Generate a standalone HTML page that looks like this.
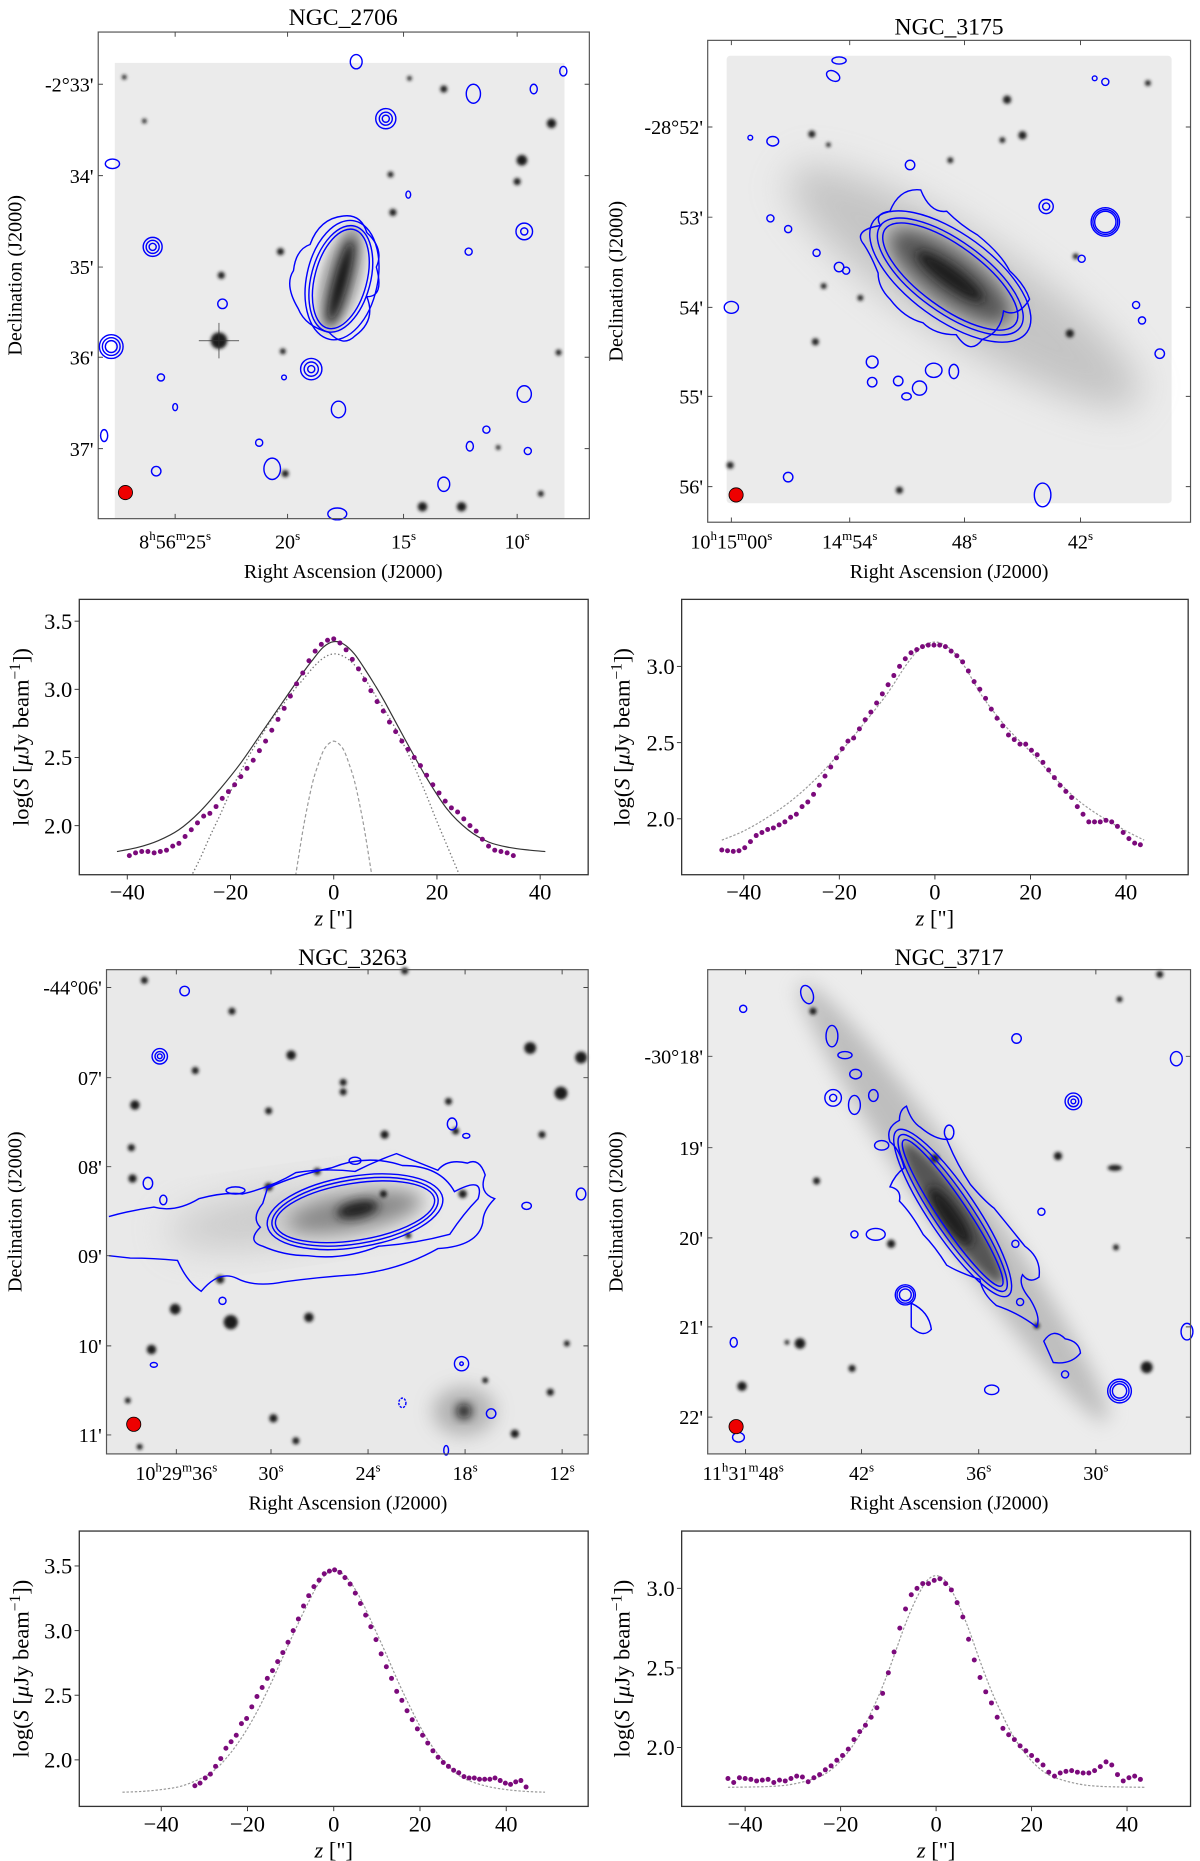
<!DOCTYPE html>
<html><head><meta charset="utf-8"><title>Radio continuum profiles</title>
<style>
html,body{margin:0;padding:0;background:#fff;}
svg{display:block;font-family:"Liberation Serif","DejaVu Serif",serif;}
svg text{font-family:"Liberation Serif","DejaVu Serif",serif;}
</style></head>
<body>
<svg id="fig" width="1200" height="1861" viewBox="0 0 1014 1568" preserveAspectRatio="none" xmlns="http://www.w3.org/2000/svg" font-family="Liberation Serif, DejaVu Serif, serif">
<defs>
<filter id="b1" x="-50%" y="-50%" width="200%" height="200%"><feGaussianBlur stdDeviation="1.3"/></filter>
<filter id="b4" x="-50%" y="-50%" width="200%" height="200%"><feGaussianBlur stdDeviation="4"/></filter>
<filter id="b8" x="-50%" y="-50%" width="200%" height="200%"><feGaussianBlur stdDeviation="8"/></filter>
<filter id="b16" x="-50%" y="-50%" width="200%" height="200%"><feGaussianBlur stdDeviation="16"/></filter>
</defs>

<!-- ================= PANEL A: NGC_2706 ================= -->
<g>
<text x="290" y="21" font-size="20" text-anchor="middle">NGC_2706</text>
<rect x="97" y="53" width="380" height="384" fill="#ebebeb"/>
<g fill="#1e1e1e" filter="url(#b1)">
<circle cx="466" cy="104" r="4"/><circle cx="441" cy="135" r="4.5"/><circle cx="437" cy="153" r="3"/><circle cx="332" cy="179" r="3"/><circle cx="237" cy="212" r="3"/><circle cx="187" cy="232" r="3"/><circle cx="375" cy="75" r="3"/><circle cx="357" cy="427" r="4"/><circle cx="390" cy="427" r="4"/><circle cx="472" cy="297" r="2.5"/><circle cx="241" cy="399" r="3"/><circle cx="239" cy="296" r="2.5"/><circle cx="457" cy="416" r="2.5"/><circle cx="421" cy="377" r="2"/><circle cx="105" cy="65" r="2"/><circle cx="346" cy="66" r="2"/><circle cx="330" cy="147" r="2.5"/><circle cx="122" cy="102" r="2"/>
<circle cx="185" cy="287" r="7"/>
</g>
<path d="M185 272 L185 302 M168 287 L202 287" stroke="#333" stroke-width="1" opacity="0.6"/>
<ellipse cx="288" cy="235" rx="16" ry="46" fill="#777" opacity="0.7" transform="rotate(15 288 235)" filter="url(#b4)"/>
<ellipse cx="288" cy="237" rx="6" ry="36" fill="#111" transform="rotate(15 288 237)" filter="url(#b4)"/>
<g fill="none" stroke="#0000ff" stroke-width="1.2">
<ellipse cx="288" cy="235" rx="22" ry="43" transform="rotate(15 288 235)"/>
<ellipse cx="288" cy="235" rx="25" ry="46" transform="rotate(15 288 235)"/>
<ellipse cx="289" cy="236" rx="30" ry="51" transform="rotate(12 289 236)"/>
<path d="M262 206 Q270 184 290 182 Q305 180 310 196 Q325 210 318 225 Q325 250 310 250 Q318 270 300 283 Q290 293 278 280 Q258 275 252 260 Q240 240 248 228 Q250 210 262 206Z"/>
<circle cx="326" cy="100" r="3"/><circle cx="326" cy="100" r="5.5"/><circle cx="326" cy="100" r="8.5"/>
<circle cx="129" cy="208" r="3"/><circle cx="129" cy="208" r="5.5"/><circle cx="129" cy="208" r="8"/>
<circle cx="94" cy="292" r="5"/><circle cx="94" cy="292" r="7.5"/><circle cx="94" cy="292" r="10"/>
<circle cx="263" cy="311" r="3"/><circle cx="263" cy="311" r="6"/><circle cx="263" cy="311" r="9"/>
<circle cx="443" cy="195" r="3"/><circle cx="443" cy="195" r="7"/>
<ellipse cx="286" cy="345" rx="6" ry="7"/><ellipse cx="443" cy="332" rx="6" ry="7"/>
<ellipse cx="230" cy="395" rx="7" ry="9"/><ellipse cx="301" cy="52" rx="5" ry="6"/>
<ellipse cx="400" cy="79" rx="6" ry="8"/><ellipse cx="375" cy="408" rx="5" ry="6"/>
<ellipse cx="95" cy="138" rx="6" ry="4"/><ellipse cx="451" cy="75" rx="3" ry="4"/><ellipse cx="476" cy="60" rx="3" ry="4"/>
<ellipse cx="188" cy="256" rx="4" ry="4"/><ellipse cx="136" cy="318" rx="3" ry="3"/><ellipse cx="148" cy="343" rx="2" ry="3"/>
<ellipse cx="411" cy="362" rx="3" ry="3"/><ellipse cx="397" cy="376" rx="3" ry="4"/><ellipse cx="446" cy="380" rx="3" ry="3"/>
<ellipse cx="219" cy="373" rx="3" ry="3"/><ellipse cx="132" cy="397" rx="4" ry="4"/><ellipse cx="285" cy="433" rx="8" ry="5"/><ellipse cx="345" cy="164" rx="2" ry="3"/><ellipse cx="396" cy="212" rx="3" ry="3"/><ellipse cx="240" cy="318" rx="2" ry="2"/><ellipse cx="88" cy="367" rx="3" ry="5"/>
</g>
<circle cx="106" cy="415" r="6" fill="#ee0000" stroke="#000" stroke-width="0.7"/>
<rect x="83" y="27" width="415" height="410" fill="none" stroke="#555" stroke-width="1"/>
<g stroke="#444" stroke-width="0.8">
<path d="M83 71h4M83 148h4M83 225h4M83 301h4M83 378h4M498 71h-4M498 148h-4M498 225h-4M498 301h-4M498 378h-4M148 437v-4M243 437v-4M341 437v-4M437 437v-4M148 27v4M243 27v4M341 27v4M437 27v4"/>
</g>
<g font-size="17" text-anchor="end">
<text x="79" y="77">-2°33'</text><text x="79" y="154">34'</text><text x="79" y="231">35'</text><text x="79" y="307">36'</text><text x="79" y="384">37'</text>
</g>
<g font-size="17" text-anchor="middle">
<text x="148" y="462">8<tspan font-size="11" dy="-7">h</tspan><tspan dy="7">56</tspan><tspan font-size="11" dy="-7">m</tspan><tspan dy="7">25</tspan><tspan font-size="11" dy="-7">s</tspan></text>
<text x="243" y="462">20<tspan font-size="11" dy="-7">s</tspan></text>
<text x="341" y="462">15<tspan font-size="11" dy="-7">s</tspan></text>
<text x="437" y="462">10<tspan font-size="11" dy="-7">s</tspan></text>
</g>
<text x="290" y="487" font-size="17" text-anchor="middle">Right Ascension (J2000)</text>
<text x="0" y="0" font-size="17" text-anchor="middle" transform="translate(18 232) rotate(-90)">Declination (J2000)</text>
</g>

<!-- ================= PANEL B: NGC_3175 ================= -->
<g>
<text x="802" y="29" font-size="20" text-anchor="middle">NGC_3175</text>
<rect x="614" y="47" width="376" height="377" rx="3" fill="#ebebeb"/>
<ellipse cx="815" cy="242" rx="175" ry="42" fill="#aaa" opacity="0.6" transform="rotate(33 815 242)" filter="url(#b16)"/>
<ellipse cx="803" cy="233" rx="62" ry="22" fill="#555" transform="rotate(36 803 233)" filter="url(#b8)"/>
<ellipse cx="803" cy="233" rx="34" ry="8" fill="#1a1a1a" transform="rotate(36 803 233)" filter="url(#b4)"/>
<g fill="#222" filter="url(#b1)">
<circle cx="851" cy="84" r="3.5"/><circle cx="864" cy="114" r="3.5"/><circle cx="686" cy="113" r="3"/><circle cx="847" cy="118" r="2.5"/><circle cx="803" cy="135" r="2.5"/><circle cx="689" cy="288" r="3"/><circle cx="904" cy="281" r="3.5"/><circle cx="617" cy="392" r="3"/><circle cx="760" cy="413" r="3"/><circle cx="727" cy="251" r="2.5"/><circle cx="970" cy="70" r="2.5"/><circle cx="909" cy="216" r="2.5"/><circle cx="696" cy="241" r="2.5"/><circle cx="700" cy="122" r="2"/>
</g>
<g fill="none" stroke="#0000ff" stroke-width="1.2">
<ellipse cx="803" cy="233" rx="68" ry="26" transform="rotate(36 803 233)"/>
<ellipse cx="803" cy="233" rx="73" ry="30" transform="rotate(36 803 233)"/>
<ellipse cx="803" cy="233" rx="80" ry="36" transform="rotate(36 803 233)"/>
<path d="M744 190 Q738 180 752 178 Q760 158 778 160 Q786 180 800 178 Q812 190 826 198 Q846 214 853 228 Q866 240 870 252 Q860 268 848 262 Q846 280 830 286 Q820 300 808 282 Q790 282 780 272 Q764 268 752 252 Q742 242 742 230 Q736 215 730 206 Q720 194 744 190Z"/>
<circle cx="934" cy="187" r="9"/><circle cx="934" cy="187" r="10.5"/><circle cx="934" cy="187" r="12"/>
<circle cx="884" cy="174" r="3"/><circle cx="884" cy="174" r="6"/>
<ellipse cx="704" cy="64" rx="6" ry="4" transform="rotate(30 704 64)"/><ellipse cx="653" cy="119" rx="5" ry="4"/>
<ellipse cx="618" cy="259" rx="6" ry="5"/><ellipse cx="737" cy="305" rx="5" ry="5"/><ellipse cx="789" cy="312" rx="7" ry="6"/><ellipse cx="777" cy="327" rx="6" ry="6"/><ellipse cx="759" cy="321" rx="4" ry="4"/><ellipse cx="806" cy="313" rx="4" ry="6"/><ellipse cx="766" cy="334" rx="4" ry="3"/><ellipse cx="737" cy="322" rx="4" ry="4"/>
<ellipse cx="881" cy="417" rx="7" ry="10"/><ellipse cx="980" cy="298" rx="4" ry="4"/><ellipse cx="666" cy="402" rx="4" ry="4"/>
<ellipse cx="709" cy="51" rx="6" ry="3"/><ellipse cx="666" cy="193" rx="3" ry="3"/><ellipse cx="651" cy="184" rx="3" ry="3"/><ellipse cx="914" cy="218" rx="3" ry="3"/><ellipse cx="965" cy="270" rx="3" ry="3"/><ellipse cx="960" cy="257" rx="3" ry="3"/><ellipse cx="690" cy="213" rx="3" ry="3"/><ellipse cx="769" cy="139" rx="4" ry="4"/><ellipse cx="934" cy="69" rx="3" ry="3"/><ellipse cx="925" cy="66" rx="2" ry="2"/><ellipse cx="715" cy="228" rx="3" ry="3"/><ellipse cx="709" cy="225" rx="4" ry="4"/><ellipse cx="634" cy="116" rx="2" ry="2"/>
</g>
<circle cx="622" cy="417" r="6" fill="#ee0000" stroke="#000" stroke-width="0.7"/>
<rect x="598" y="34" width="408" height="406" fill="none" stroke="#555" stroke-width="1"/>
<g stroke="#444" stroke-width="0.8">
<path d="M598 107h4M598 183h4M598 259h4M598 334h4M598 410h4M1006 107h-4M1006 183h-4M1006 259h-4M1006 334h-4M1006 410h-4M618 440v-4M718 440v-4M815 440v-4M913 440v-4M618 34v4M718 34v4M815 34v4M913 34v4"/>
</g>
<g font-size="17" text-anchor="end">
<text x="594" y="113">-28°52'</text><text x="594" y="189">53'</text><text x="594" y="265">54'</text><text x="594" y="340">55'</text><text x="594" y="416">56'</text>
</g>
<g font-size="17" text-anchor="middle">
<text x="618" y="462">10<tspan font-size="11" dy="-7">h</tspan><tspan dy="7">15</tspan><tspan font-size="11" dy="-7">m</tspan><tspan dy="7">00</tspan><tspan font-size="11" dy="-7">s</tspan></text>
<text x="718" y="462">14<tspan font-size="11" dy="-7">m</tspan><tspan dy="7">54</tspan><tspan font-size="11" dy="-7">s</tspan></text>
<text x="815" y="462">48<tspan font-size="11" dy="-7">s</tspan></text>
<text x="913" y="462">42<tspan font-size="11" dy="-7">s</tspan></text>
</g>
<text x="802" y="487" font-size="17" text-anchor="middle">Right Ascension (J2000)</text>
<text x="0" y="0" font-size="17" text-anchor="middle" transform="translate(526 237) rotate(-90)">Declination (J2000)</text>
</g>

<!-- ================= PANEL C: NGC_3263 ================= -->
<g>
<text x="298" y="813" font-size="20" text-anchor="middle">NGC_3263</text>
<rect x="90" y="817" width="407" height="408" fill="#e9e9e9"/>
<ellipse cx="240" cy="1025" rx="100" ry="22" fill="#aaa" opacity="0.5" transform="rotate(-8 240 1025)" filter="url(#b16)"/>
<ellipse cx="300" cy="1021" rx="58" ry="15" fill="#888" transform="rotate(-10 300 1021)" filter="url(#b8)"/>
<ellipse cx="302" cy="1019" rx="18" ry="7" fill="#1a1a1a" transform="rotate(-12 302 1019)" filter="url(#b4)"/>
<ellipse cx="392" cy="1189" rx="26" ry="20" fill="#999" opacity="0.7" filter="url(#b8)"/>
<circle cx="392" cy="1189" r="6" fill="#111" filter="url(#b4)"/>
<g fill="#1b1b1b" filter="url(#b1)">
<circle cx="448" cy="883" r="5"/><circle cx="491" cy="891" r="5"/><circle cx="474" cy="921" r="5.5"/><circle cx="246" cy="889" r="4"/><circle cx="196" cy="852" r="3"/><circle cx="114" cy="931" r="4"/><circle cx="111" cy="967" r="3"/><circle cx="112" cy="993" r="3.5"/><circle cx="227" cy="936" r="3"/><circle cx="290" cy="920" r="3"/><circle cx="325" cy="956" r="3.5"/><circle cx="165" cy="902" r="3"/><circle cx="227" cy="1000" r="3.5"/><circle cx="324" cy="1006" r="3"/><circle cx="391" cy="1006" r="3.5"/><circle cx="148" cy="1103" r="4.5"/><circle cx="195" cy="1114" r="6"/><circle cx="128" cy="1137" r="4"/><circle cx="261" cy="1110" r="4"/><circle cx="479" cy="1132" r="2.5"/><circle cx="465" cy="1173" r="3"/><circle cx="231" cy="1195" r="3.5"/><circle cx="435" cy="1208" r="3.5"/><circle cx="250" cy="1214" r="3"/><circle cx="122" cy="826" r="3"/><circle cx="342" cy="818" r="3"/><circle cx="379" cy="928" r="3"/><circle cx="458" cy="956" r="3"/><circle cx="290" cy="912" r="3"/><circle cx="268" cy="987" r="3"/><circle cx="385" cy="953" r="3"/><circle cx="186" cy="1078" r="3.5"/><circle cx="108" cy="1180" r="2.5"/><circle cx="118" cy="1219" r="2.5"/><circle cx="410" cy="1163" r="2.5"/><circle cx="345" cy="1041" r="2.5"/>
</g>
<g fill="none" stroke="#0000ff" stroke-width="1.2">
<ellipse cx="300" cy="1021" rx="68" ry="24" transform="rotate(-9 300 1021)"/>
<ellipse cx="300" cy="1021" rx="71" ry="27" transform="rotate(-9 300 1021)"/>
<ellipse cx="300" cy="1021" rx="75" ry="30" transform="rotate(-9 300 1021)"/>
<path d="M226 1001 Q250 990 280 984 Q310 972 340 982 Q372 982 384 1004 Q410 990 404 1010 Q392 1022 380 1040 Q350 1048 320 1050 Q290 1062 260 1058 Q240 1058 222 1050 Q208 1046 220 1034 Q212 1026 222 1014 Z"/>
<path d="M92 1025 Q110 1020 130 1017 Q148 1022 168 1010 Q190 1004 205 1006 Q230 1000 250 988 Q275 984 300 987 Q318 978 335 972 Q355 980 370 986 Q378 976 395 980 Q405 975 410 990 Q404 1005 418 1010 Q408 1020 408 1030 Q404 1050 370 1052 Q338 1070 300 1074 Q270 1076 240 1080 Q215 1085 200 1077 Q185 1070 170 1088 Q158 1080 150 1062 Q130 1060 110 1060 L92 1058"/>
<circle cx="135" cy="890" r="2"/><circle cx="135" cy="890" r="4"/><circle cx="135" cy="890" r="6.5"/>
<ellipse cx="156" cy="835" rx="4" ry="4"/><ellipse cx="382" cy="947" rx="4" ry="5"/><ellipse cx="491" cy="1006" rx="4" ry="5"/><ellipse cx="445" cy="1016" rx="4" ry="3"/>
<circle cx="390" cy="1149" r="1.5"/><circle cx="390" cy="1149" r="6"/>
<ellipse cx="415" cy="1191" rx="4" ry="4"/><ellipse cx="340" cy="1182" rx="3" ry="4" stroke-dasharray="2,1"/><ellipse cx="125" cy="997" rx="4" ry="5"/><ellipse cx="138" cy="1011" rx="3" ry="4"/><ellipse cx="199" cy="1003" rx="8" ry="3"/><ellipse cx="188" cy="1096" rx="3" ry="3"/><ellipse cx="300" cy="978" rx="5" ry="3"/><ellipse cx="394" cy="957" rx="3" ry="2"/><ellipse cx="130" cy="1150" rx="3" ry="2"/><ellipse cx="377" cy="1222" rx="2" ry="4"/>
</g>
<circle cx="113" cy="1200" r="6" fill="#ee0000" stroke="#000" stroke-width="0.7"/>
<rect x="90" y="817" width="407" height="408" fill="none" stroke="#555" stroke-width="1"/>
<g stroke="#444" stroke-width="0.8">
<path d="M90 832h4M90 908h4M90 983h4M90 1058h4M90 1134h4M90 1209h4M497 832h-4M497 908h-4M497 983h-4M497 1058h-4M497 1134h-4M497 1209h-4M149 1225v-4M229 1225v-4M311 1225v-4M393 1225v-4M475 1225v-4M149 817v4M229 817v4M311 817v4M393 817v4M475 817v4"/>
</g>
<g font-size="17" text-anchor="end">
<text x="86" y="838">-44°06'</text><text x="86" y="914">07'</text><text x="86" y="989">08'</text><text x="86" y="1064">09'</text><text x="86" y="1140">10'</text><text x="86" y="1215">11'</text>
</g>
<g font-size="17" text-anchor="middle">
<text x="149" y="1247">10<tspan font-size="11" dy="-7">h</tspan><tspan dy="7">29</tspan><tspan font-size="11" dy="-7">m</tspan><tspan dy="7">36</tspan><tspan font-size="11" dy="-7">s</tspan></text>
<text x="229" y="1247">30<tspan font-size="11" dy="-7">s</tspan></text>
<text x="311" y="1247">24<tspan font-size="11" dy="-7">s</tspan></text>
<text x="393" y="1247">18<tspan font-size="11" dy="-7">s</tspan></text>
<text x="475" y="1247">12<tspan font-size="11" dy="-7">s</tspan></text>
</g>
<text x="294" y="1272" font-size="17" text-anchor="middle">Right Ascension (J2000)</text>
<text x="0" y="0" font-size="17" text-anchor="middle" transform="translate(18 1021) rotate(-90)">Declination (J2000)</text>
</g>

<!-- ================= PANEL D: NGC_3717 ================= -->
<g>
<text x="802" y="813" font-size="20" text-anchor="middle">NGC_3717</text>
<rect x="598" y="817" width="408" height="408" fill="#ececec"/>
<ellipse cx="806" cy="1013" rx="225" ry="24" fill="#999" opacity="0.55" transform="rotate(55 806 1013)" filter="url(#b8)"/>
<ellipse cx="805" cy="1022" rx="72" ry="14" fill="#555" transform="rotate(55 805 1022)" filter="url(#b4)"/>
<ellipse cx="803" cy="1025" rx="30" ry="8" fill="#1a1a1a" transform="rotate(55 803 1025)" filter="url(#b4)"/>
<g fill="#1b1b1b" filter="url(#b1)">
<circle cx="687" cy="852" r="3"/><circle cx="980" cy="821" r="3"/><circle cx="894" cy="974" r="3.5"/><ellipse cx="942" cy="984" rx="6" ry="2.5"/><circle cx="690" cy="995" r="3"/><circle cx="753" cy="1048" r="3.5"/><circle cx="676" cy="1132" r="4.5"/><circle cx="969" cy="1152" r="5"/><circle cx="627" cy="1168" r="4"/><circle cx="720" cy="1153" r="3"/><circle cx="943" cy="1051" r="2.5"/><circle cx="876" cy="1117" r="2.5"/><circle cx="790" cy="976" r="3.5"/><circle cx="946" cy="842" r="2.5"/><circle cx="665" cy="1131" r="2"/>
</g>
<g fill="none" stroke="#0000ff" stroke-width="1.2">
<ellipse cx="805" cy="1022" rx="74" ry="12" transform="rotate(56 805 1022)"/>
<ellipse cx="805" cy="1022" rx="79" ry="16" transform="rotate(56 805 1022)"/>
<ellipse cx="805" cy="1022" rx="84" ry="20" transform="rotate(56 805 1022)"/>
<path d="M766 932 Q770 945 778 950 Q790 960 800 960 Q808 980 820 998 Q832 1012 840 1018 Q858 1040 866 1050 Q880 1060 878 1076 Q870 1082 864 1074 Q860 1082 870 1094 Q880 1110 876 1118 Q860 1106 842 1100 Q830 1090 828 1078 Q810 1072 800 1066 Q790 1050 780 1040 Q770 1022 760 1012 Q762 1002 752 1000 Q756 990 764 984 Q760 968 752 962 Q748 950 760 944 Q760 935 766 932Z"/>
<circle cx="704" cy="925" r="3"/><circle cx="704" cy="925" r="7"/>
<circle cx="907" cy="928" r="2"/><circle cx="907" cy="928" r="4.5"/><circle cx="907" cy="928" r="7"/>
<circle cx="765" cy="1091" r="5"/><circle cx="765" cy="1091" r="7"/><circle cx="765" cy="1091" r="8.5"/>
<path d="M770 1098 Q785 1105 787 1120 Q780 1128 770 1118 Z"/>
<circle cx="946" cy="1172" r="6"/><circle cx="946" cy="1172" r="8"/><circle cx="946" cy="1172" r="10"/>
<ellipse cx="994" cy="892" rx="5" ry="6"/><ellipse cx="859" cy="875" rx="4" ry="4"/><ellipse cx="1003" cy="1122" rx="5" ry="7"/><ellipse cx="620" cy="1131" rx="3" ry="4"/><ellipse cx="838" cy="1171" rx="6" ry="4"/>
<ellipse cx="682" cy="838" rx="5" ry="8" transform="rotate(-20 682 838)"/><ellipse cx="703" cy="873" rx="5" ry="9"/><ellipse cx="714" cy="889" rx="6" ry="3"/><ellipse cx="723" cy="905" rx="5" ry="4"/><ellipse cx="738" cy="923" rx="4" ry="5"/><ellipse cx="722" cy="931" rx="5" ry="8"/><ellipse cx="745" cy="965" rx="6" ry="4"/>
<path d="M882 1130 Q890 1118 900 1128 Q912 1130 913 1140 Q905 1150 890 1148 Z"/>
<ellipse cx="740" cy="1040" rx="8" ry="5"/><ellipse cx="802" cy="954" rx="4" ry="6"/><ellipse cx="858" cy="1048" rx="3" ry="3"/><ellipse cx="880" cy="1021" rx="3" ry="3"/><ellipse cx="624" cy="1211" rx="5" ry="4"/><ellipse cx="722" cy="1040" rx="3" ry="3"/><ellipse cx="862" cy="1097" rx="3" ry="3"/><ellipse cx="900" cy="1158" rx="3" ry="3"/><ellipse cx="628" cy="850" rx="3" ry="3"/>
</g>
<circle cx="622" cy="1202" r="6" fill="#ee0000" stroke="#000" stroke-width="0.7"/>
<rect x="598" y="817" width="408" height="408" fill="none" stroke="#555" stroke-width="1"/>
<g stroke="#444" stroke-width="0.8">
<path d="M598 890h4M598 967h4M598 1043h4M598 1118h4M598 1194h4M1006 890h-4M1006 967h-4M1006 1043h-4M1006 1118h-4M1006 1194h-4M630 1225v-4M728 1225v-4M827 1225v-4M926 1225v-4M630 817v4M728 817v4M827 817v4M926 817v4"/>
</g>
<g font-size="17" text-anchor="end">
<text x="594" y="896">-30°18'</text><text x="594" y="973">19'</text><text x="594" y="1049">20'</text><text x="594" y="1124">21'</text><text x="594" y="1200">22'</text>
</g>
<g font-size="17" text-anchor="middle">
<text x="628" y="1247">11<tspan font-size="11" dy="-7">h</tspan><tspan dy="7">31</tspan><tspan font-size="11" dy="-7">m</tspan><tspan dy="7">48</tspan><tspan font-size="11" dy="-7">s</tspan></text>
<text x="728" y="1247">42<tspan font-size="11" dy="-7">s</tspan></text>
<text x="827" y="1247">36<tspan font-size="11" dy="-7">s</tspan></text>
<text x="926" y="1247">30<tspan font-size="11" dy="-7">s</tspan></text>
</g>
<text x="802" y="1272" font-size="17" text-anchor="middle">Right Ascension (J2000)</text>
<text x="0" y="0" font-size="17" text-anchor="middle" transform="translate(526 1021) rotate(-90)">Declination (J2000)</text>
</g>

<g id="profiles" font-family="Liberation Serif, DejaVu Serif, serif"></g>
</svg>

<script>
// ---------- data: NGC 2706 ----------
const z2706 = [-39.6,-38.4,-37.2,-36.0,-34.8,-33.6,-32.4,-31.2,-30.0,-28.8,-27.6,-26.4,-25.2,-24.0,-22.8,-21.6,-20.4,-19.2,-18.0,-16.8,-15.6,-14.4,-13.2,-12.0,-10.8,-9.6,-8.4,-7.2,-6.0,-4.8,-3.6,-2.4,-1.2,0.0,1.2,2.4,3.6,4.8,6.0,7.2,8.4,9.6,10.8,12.0,13.2,14.4,15.6,16.8,18.0,19.2,20.4,21.6,22.8,24.0,25.2,26.4,27.6,28.8,30.0,31.2,32.4,33.6,34.8];
const s2706 = [1.78,1.80,1.81,1.81,1.80,1.81,1.82,1.85,1.87,1.92,1.97,2.02,2.07,2.09,2.14,2.20,2.25,2.30,2.36,2.42,2.48,2.55,2.62,2.70,2.78,2.86,2.95,3.04,3.12,3.21,3.28,3.33,3.36,3.37,3.34,3.29,3.22,3.15,3.07,2.99,2.91,2.84,2.76,2.69,2.62,2.56,2.50,2.44,2.37,2.30,2.24,2.18,2.13,2.10,2.05,2.00,1.96,1.90,1.85,1.82,1.81,1.80,1.78];
const fitTotalZ2706 = [-42,-38,-34,-30,-26,-22,-18,-14,-10,-6,-4,-2,0,2,4,6,8,10,14,18,22,26,30,34,38,41];
const fitTotalS2706 = [1.81,1.84,1.89,1.97,2.10,2.27,2.46,2.68,2.90,3.12,3.22,3.31,3.35,3.33,3.26,3.15,3.03,2.90,2.62,2.35,2.12,1.97,1.88,1.84,1.82,1.81];
const fitThickZ2706 = [-28,-26,-24,-22,-20,-18,-16,-14,-12,-10,-8,-6,-4,-2,0,2,4,6,8,10,12,14,16,18,20,22,24,25];
const fitThickS2706 = [1.60,1.75,1.92,2.08,2.25,2.40,2.54,2.66,2.78,2.88,2.98,3.07,3.16,3.23,3.26,3.24,3.18,3.08,2.96,2.84,2.71,2.56,2.40,2.22,2.03,1.85,1.67,1.58];
const fitThinZ2706 = [-7.4,-6,-5,-4,-3,-2,-1,0,1,2,3,4,5,6,7.4];
const fitThinS2706 = [1.63,1.96,2.16,2.33,2.45,2.55,2.60,2.62,2.60,2.55,2.45,2.33,2.16,1.96,1.63];
// ---------- data: NGC 3175 ----------
const z3175 = [-44.6,-43.4,-42.2,-41.0,-39.8,-38.6,-37.4,-36.2,-35.0,-33.8,-32.6,-31.4,-30.2,-29.0,-27.8,-26.6,-25.4,-24.2,-23.0,-21.8,-20.6,-19.4,-18.2,-17.0,-15.8,-14.6,-13.4,-12.2,-11.0,-9.8,-8.6,-7.4,-6.2,-5.0,-3.8,-2.6,-1.4,-0.2,1.0,2.2,3.4,4.6,5.8,7.0,8.2,9.4,10.6,11.8,13.0,14.2,15.4,16.6,17.8,19.0,20.2,21.4,22.6,23.8,25.0,26.2,27.4,28.6,29.8,31.0,32.2,33.4,34.6,35.8,37.0,38.2,39.4,40.6,41.8,43.0];
const s3175 = [1.795,1.79,1.786,1.79,1.81,1.85,1.89,1.91,1.93,1.94,1.96,1.98,2.01,2.03,2.08,2.11,2.16,2.22,2.28,2.34,2.40,2.46,2.51,2.53,2.59,2.65,2.70,2.76,2.82,2.88,2.94,3.00,3.05,3.09,3.11,3.13,3.14,3.14,3.14,3.13,3.10,3.07,3.03,2.97,2.90,2.85,2.79,2.72,2.66,2.61,2.55,2.52,2.49,2.49,2.45,2.42,2.37,2.32,2.27,2.22,2.18,2.14,2.08,2.03,1.98,1.98,1.98,1.99,1.98,1.95,1.91,1.87,1.84,1.83];
const fitZ3175 = [-44.6,-40,-35,-30,-25,-20,-15,-10,-6,-3,0,3,6,10,15,20,25,30,35,40,43.8];
const fitS3175 = [1.86,1.92,2.01,2.12,2.26,2.43,2.62,2.82,3.01,3.12,3.16,3.12,3.01,2.80,2.60,2.44,2.27,2.12,2.01,1.92,1.86];
// ---------- data: NGC 3263 ----------
const z3263 = [-32.2,-31.0,-29.8,-28.6,-27.4,-26.2,-25.0,-23.8,-22.6,-21.4,-20.2,-19.0,-17.8,-16.6,-15.4,-14.2,-13.0,-11.8,-10.6,-9.4,-8.2,-7.0,-5.8,-4.6,-3.4,-2.2,-1.0,0.2,1.4,2.6,3.8,5.0,6.2,7.4,8.6,9.8,11.0,12.2,13.4,14.6,15.8,17.0,18.2,19.4,20.6,21.8,23.0,24.2,25.4,26.6,27.8,29.0,30.2,31.4,32.6,33.8,35.0,36.2,37.4,38.6,39.8,41.0,42.2,43.4,44.6];
const s3263 = [1.80,1.82,1.86,1.89,1.95,2.01,2.09,2.14,2.19,2.28,2.32,2.41,2.49,2.56,2.63,2.69,2.76,2.83,2.91,3.00,3.09,3.19,3.27,3.34,3.39,3.44,3.46,3.47,3.45,3.41,3.36,3.29,3.21,3.12,3.03,2.93,2.82,2.72,2.63,2.53,2.46,2.38,2.31,2.24,2.19,2.13,2.07,2.02,1.98,1.95,1.92,1.90,1.87,1.86,1.86,1.85,1.85,1.85,1.86,1.84,1.82,1.81,1.83,1.84,1.79];
const fitZ3263 = [-49,-45,-40,-35,-30,-27,-24,-21,-18,-15,-12,-9,-6,-3,0,3,6,9,12,15,18,21,24,27,30,35,40,45,49];
const fitS3263 = [1.75,1.755,1.77,1.80,1.87,1.94,2.05,2.19,2.36,2.56,2.78,3.00,3.21,3.39,3.47,3.41,3.26,3.05,2.83,2.60,2.39,2.20,2.05,1.94,1.86,1.80,1.77,1.755,1.75];
// ---------- data: NGC 3717 ----------
const z3717 = [-43.6,-42.4,-41.2,-40.0,-38.8,-37.6,-36.4,-35.2,-34.0,-32.8,-31.6,-30.4,-29.2,-28.0,-26.8,-25.6,-24.4,-23.2,-22.0,-20.8,-19.6,-18.4,-17.2,-16.0,-14.8,-13.6,-12.4,-11.2,-10.0,-8.8,-7.6,-6.4,-5.2,-4.0,-2.8,-1.6,-0.4,0.8,2.0,3.2,4.4,5.6,6.8,8.0,9.2,10.4,11.6,12.8,14.0,15.2,16.4,17.6,18.8,20.0,21.2,22.4,23.6,24.8,26.0,27.2,28.4,29.6,30.8,32.0,33.2,34.4,35.6,36.8,38.0,39.2,40.4,41.6,42.8];
const s3717 = [1.805,1.78,1.81,1.805,1.80,1.79,1.795,1.80,1.78,1.795,1.79,1.805,1.82,1.815,1.785,1.81,1.83,1.86,1.885,1.92,1.95,1.99,2.05,2.10,2.14,2.19,2.25,2.34,2.47,2.60,2.75,2.87,2.96,3.00,3.03,3.03,3.05,3.06,3.03,2.99,2.91,2.82,2.68,2.55,2.44,2.35,2.28,2.19,2.12,2.08,2.05,2.01,1.98,1.95,1.92,1.89,1.845,1.82,1.84,1.85,1.855,1.845,1.84,1.84,1.855,1.88,1.91,1.89,1.83,1.79,1.81,1.82,1.80];
const fitZ3717 = [-43.6,-35,-30,-25,-22,-19,-16,-13,-11,-9,-7,-5,-3,-1.5,0,1.5,3,5,7,9,11,13,16,19,22,25,30,35,43.8];
const fitS3717 = [1.75,1.755,1.77,1.81,1.86,1.95,2.08,2.26,2.40,2.56,2.73,2.88,3.00,3.06,3.08,3.06,3.00,2.88,2.73,2.56,2.40,2.26,2.08,1.95,1.86,1.81,1.77,1.755,1.75];
// ---------- axis ticks ----------
const xTicksA = [-40,-20,0,20,40];
const yTicksA = [2.0,2.5,3.0,3.5];
const yTicksB = [2.0,2.5,3.0];
</script>
<script>
const NS = 'http://www.w3.org/2000/svg';
const FONT = '"Liberation Serif", "DejaVu Serif", serif';
const root = document.getElementById('profiles');
function mk(tag, attrs, parent){
  const e = document.createElementNS(NS, tag);
  for (const k in attrs) e.setAttribute(k, attrs[k]);
  parent.appendChild(e);
  return e;
}
function tspan(parent, txt, attrs){
  const t = mk('tspan', attrs || {}, parent);
  t.textContent = txt;
  return t;
}
function smoothPath(xs, ys){
  let d = 'M' + xs[0].toFixed(2) + ' ' + ys[0].toFixed(2);
  for (let i = 0; i < xs.length - 1; i++){
    const x0 = xs[Math.max(i-1,0)], y0 = ys[Math.max(i-1,0)];
    const x1 = xs[i], y1 = ys[i], x2 = xs[i+1], y2 = ys[i+1];
    const x3 = xs[Math.min(i+2,xs.length-1)], y3 = ys[Math.min(i+2,ys.length-1)];
    const c1x = x1 + (x2-x0)/6, c1y = y1 + (y2-y0)/6;
    const c2x = x2 - (x3-x1)/6, c2y = y2 - (y3-y1)/6;
    d += ' C' + c1x.toFixed(2)+' '+c1y.toFixed(2)+' '+c2x.toFixed(2)+' '+c2y.toFixed(2)+' '+x2.toFixed(2)+' '+y2.toFixed(2);
  }
  return d;
}
function profile(cfg){
  const g = mk('g', {}, root);
  
  
  g.style.fontFamily = FONT;
  const L = cfg.box[0], T = cfg.box[1], R = cfg.box[2], B = cfg.box[3];
  const sx = v => L + (v - cfg.xr[0]) / (cfg.xr[1] - cfg.xr[0]) * (R - L);
  const sy = v => B - (v - cfg.yr[0]) / (cfg.yr[1] - cfg.yr[0]) * (B - T);
  const clipId = 'clip-' + cfg.name;
  const cp = mk('clipPath', {id: clipId}, g);
  mk('rect', {x: L, y: T, width: R-L, height: B-T}, cp);
  const plot = mk('g', {'clip-path': 'url(#' + clipId + ')'}, g);
  
  
  cfg.lines.forEach(ln => {
    const p = mk('path', {d: smoothPath(ln.z.map(sx), ln.s.map(sy)), fill: 'none', stroke: ln.color, 'stroke-width': ln.w, 'stroke-dasharray': ln.dash || 'none'}, plot);
    
    
  });
  const pts = mk('g', {fill: '#7b0a7b'}, plot);
  
  
  cfg.z.forEach((zv, i) => {
    const c = mk('circle', {cx: sx(zv).toFixed(2), cy: sy(cfg.s[i]).toFixed(2), r: 2.1}, pts);
    
    
  });
  const fr = mk('rect', {x: L, y: T, width: R-L, height: B-T, fill: 'none', stroke: '#333', 'stroke-width': 1.1}, g);
  
  
  const xt = mk('g', {'font-size': 19, 'text-anchor': 'middle'}, g);
  
  
  cfg.xticks.forEach(t => {
    const x = sx(t);
    mk('line', {x1: x, x2: x, y1: B, y2: B + 4, stroke: '#333', 'stroke-width': 0.8}, xt);
    const tx = mk('text', {x: x, y: B + 21}, xt);
    tx.style.fontFamily = FONT;
    tx.textContent = (t < 0 ? '\u2212' + Math.abs(t) : String(t));
  });
  const yt = mk('g', {'font-size': 19, 'text-anchor': 'end'}, g);
  
  
  cfg.yticks.forEach(t => {
    const y = sy(t);
    mk('line', {x1: L - 4, x2: L, y1: y, y2: y, stroke: '#333', 'stroke-width': 0.8}, yt);
    const tx = mk('text', {x: L - 6, y: y + 6.5}, yt);
    tx.style.fontFamily = FONT;
    tx.textContent = t.toFixed(1);
  });
  const xl = mk('text', {x: (L+R)/2, y: B + 43, 'font-size': 19, 'text-anchor': 'middle'}, g);
  
  
  xl.style.fontFamily = FONT;
  tspan(xl, 'z', {'font-style': 'italic'});
  tspan(xl, ' ["]');
  const yl = mk('text', {x: 0, y: 0, 'font-size': 19, 'text-anchor': 'middle', transform: 'translate(' + (cfg.ylx) + ' ' + ((T+B)/2) + ') rotate(-90)'}, g);
  
  
  yl.style.fontFamily = FONT;
  tspan(yl, 'log(');
  tspan(yl, 'S', {'font-style': 'italic'});
  tspan(yl, ' [');
  tspan(yl, 'μ', {'font-style': 'italic'});
  tspan(yl, 'Jy beam');
  tspan(yl, '\u22121', {'font-size': 13, dy: -7});
  tspan(yl, '])', {dy: 7});
}
profile({name: 'ngc2706-profile', box: [67,505,497,737], xr: [-49.3,49.3], yr: [1.64,3.66], xticks: xTicksA, yticks: yTicksA, ylx: 24,
  z: z2706, s: s2706,
  lines: [
    {z: fitThinZ2706, s: fitThinS2706, color: '#999', w: 1, dash: '3,2', label: 'thin-disk-fit'},
    {z: fitThickZ2706, s: fitThickS2706, color: '#777', w: 1.1, dash: '1.2,2', label: 'thick-disk-fit'},
    {z: fitTotalZ2706, s: fitTotalS2706, color: '#333', w: 1, label: 'total-fit'}
  ]});
profile({name: 'ngc3175-profile', box: [576,505,1004,737], xr: [-53,53], yr: [1.633,3.44], xticks: xTicksA, yticks: yTicksB, ylx: 532,
  z: z3175, s: s3175,
  lines: [{z: fitZ3175, s: fitS3175, color: '#999', w: 1, dash: '2,1.5', label: 'model-fit'}]});
profile({name: 'ngc3263-profile', box: [67,1290,497,1522], xr: [-59,59], yr: [1.64,3.77], xticks: xTicksA, yticks: yTicksA, ylx: 24,
  z: z3263, s: s3263,
  lines: [{z: fitZ3263, s: fitS3263, color: '#999', w: 1, dash: '2,1.5', label: 'model-fit'}]});
profile({name: 'ngc3717-profile', box: [576,1290,1006,1522], xr: [-53.3,53.3], yr: [1.63,3.36], xticks: xTicksA, yticks: yTicksB, ylx: 532,
  z: z3717, s: s3717,
  lines: [{z: fitZ3717, s: fitS3717, color: '#999', w: 1, dash: '2,1.5', label: 'model-fit'}]});
</script>
</body></html>
